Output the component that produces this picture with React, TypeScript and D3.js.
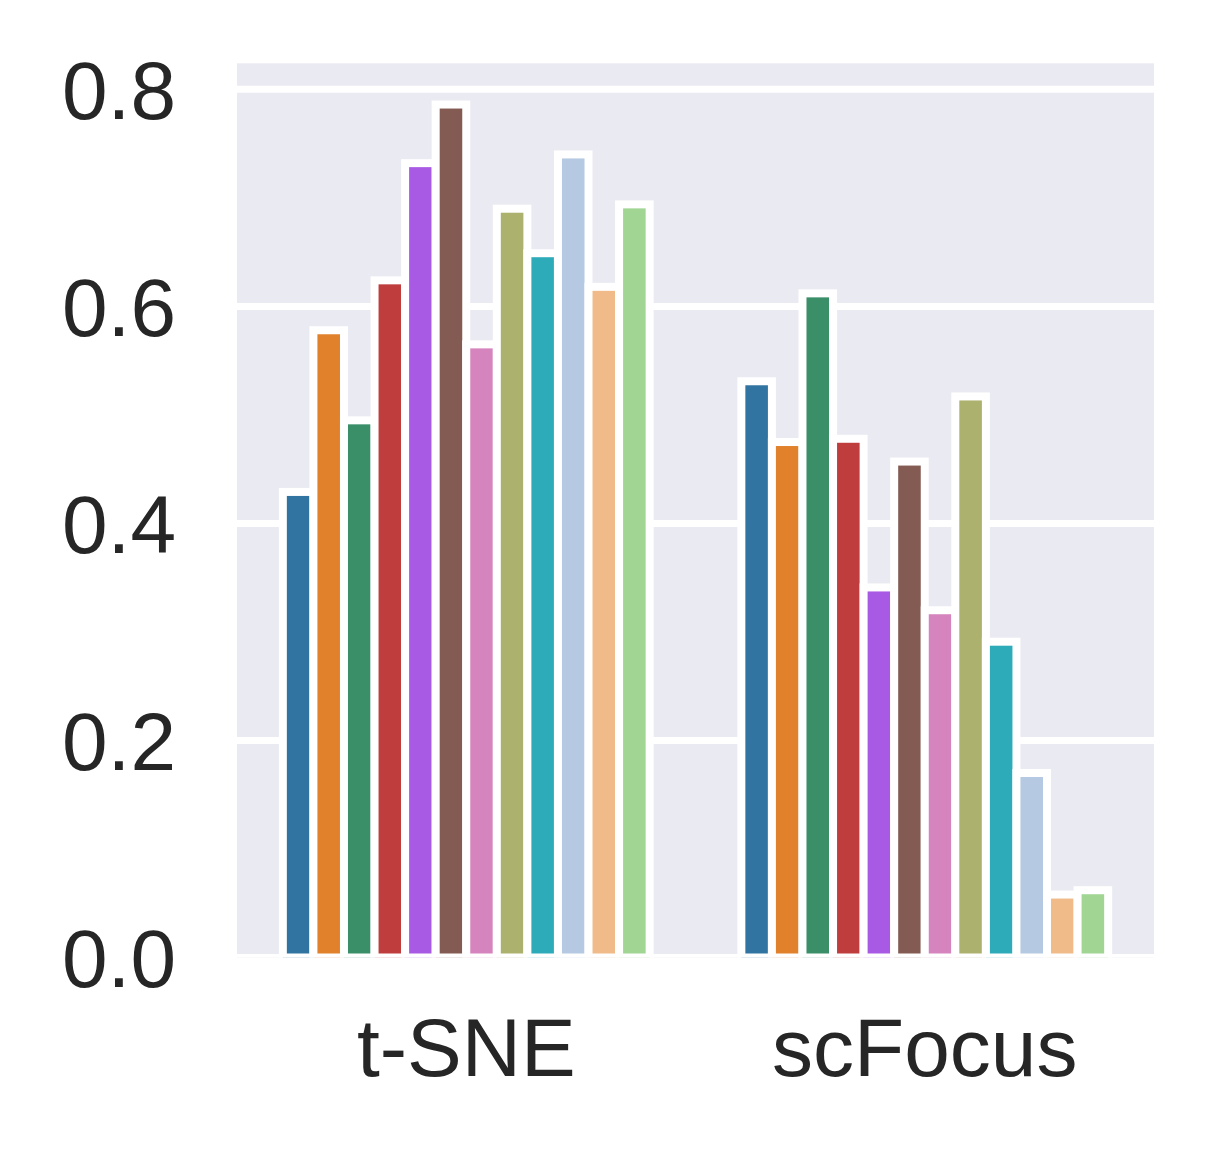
import * as d3 from 'd3';
import React from 'react';

// Scores per method, one value per cluster (hue order follows the palette)
const methods = ['t-SNE', 'scFocus'];
const tsneScores = [0.429, 0.578, 0.495, 0.624, 0.732, 0.786, 0.565, 0.69, 0.649, 0.74, 0.618, 0.694];
const scFocusScores = [0.531, 0.475, 0.612, 0.478, 0.341, 0.457, 0.32, 0.517, 0.291, 0.17, 0.058, 0.062];
const palette = [
  '#3274a1', '#e1812c', '#3a8f69', '#c03d3e', '#a85ae4', '#845b53',
  '#d684bd', '#adb16e', '#2eabb8', '#b5c9e2', '#f0bb88', '#a0d594',
];
const yTicks = [0, 0.2, 0.4, 0.6, 0.8];

const WIDTH = 1215;
const HEIGHT = 1151;
const PLOT = { left: 237, right: 1154, top: 63.3, bottom: 957.5 };
const FONT = '"Liberation Sans", Arial, sans-serif';

export default function App() {
  const scores = [tsneScores, scFocusScores];

  const xScale = d3
    .scaleBand()
    .domain(methods)
    .range([PLOT.left, PLOT.right])
    .paddingInner(0.2)
    .paddingOuter(0.1);

  const hueScale = d3
    .scaleBand<number>()
    .domain(d3.range(palette.length))
    .range([0, xScale.bandwidth()]);

  const yScale = d3.scaleLinear().domain([0, 0.824]).range([PLOT.bottom, PLOT.top]);

  const bars = methods.flatMap((m, gi) =>
    scores[gi].map((v, i) => {
      const x = (xScale(m) ?? 0) + (hueScale(i) ?? 0);
      return (
        <rect
          key={`${m}-${i}`}
          x={x}
          y={yScale(v)}
          width={hueScale.bandwidth()}
          height={yScale(0) - yScale(v)}
          fill={palette[i]}
          stroke="white"
          strokeWidth={8}
        />
      );
    })
  );

  return (
    <svg
      width={WIDTH}
      height={HEIGHT}
      style={{ position: 'absolute', left: 0, top: 0, background: 'white' }}
    >
      <defs>
        <clipPath id="plot-clip">
          <rect x={PLOT.left} y={PLOT.top} width={PLOT.right - PLOT.left} height={PLOT.bottom - PLOT.top} />
        </clipPath>
      </defs>
      <rect
        x={PLOT.left}
        y={PLOT.top}
        width={PLOT.right - PLOT.left}
        height={PLOT.bottom - PLOT.top}
        fill="#eaeaf2"
      />
      <g clipPath="url(#plot-clip)">
        {yTicks.map(t => (
          <line
            key={t}
            x1={PLOT.left}
            x2={PLOT.right}
            y1={yScale(t)}
            y2={yScale(t)}
            stroke="white"
            strokeWidth={7}
          />
        ))}
        {bars}
      </g>
      {yTicks.map(t => (
        <text
          key={t}
          x={176}
          y={yScale(t)}
          dy="0.36em"
          textAnchor="end"
          fontFamily={FONT}
          fontSize={82}
          fill="#262626"
        >
          {t.toFixed(1)}
        </text>
      ))}
      {methods.map(m => (
        <text
          key={m}
          x={(xScale(m) ?? 0) + xScale.bandwidth() / 2}
          y={1076}
          textAnchor="middle"
          fontFamily={FONT}
          fontSize={82}
          fill="#262626"
        >
          {m}
        </text>
      ))}
    </svg>
  );
}
